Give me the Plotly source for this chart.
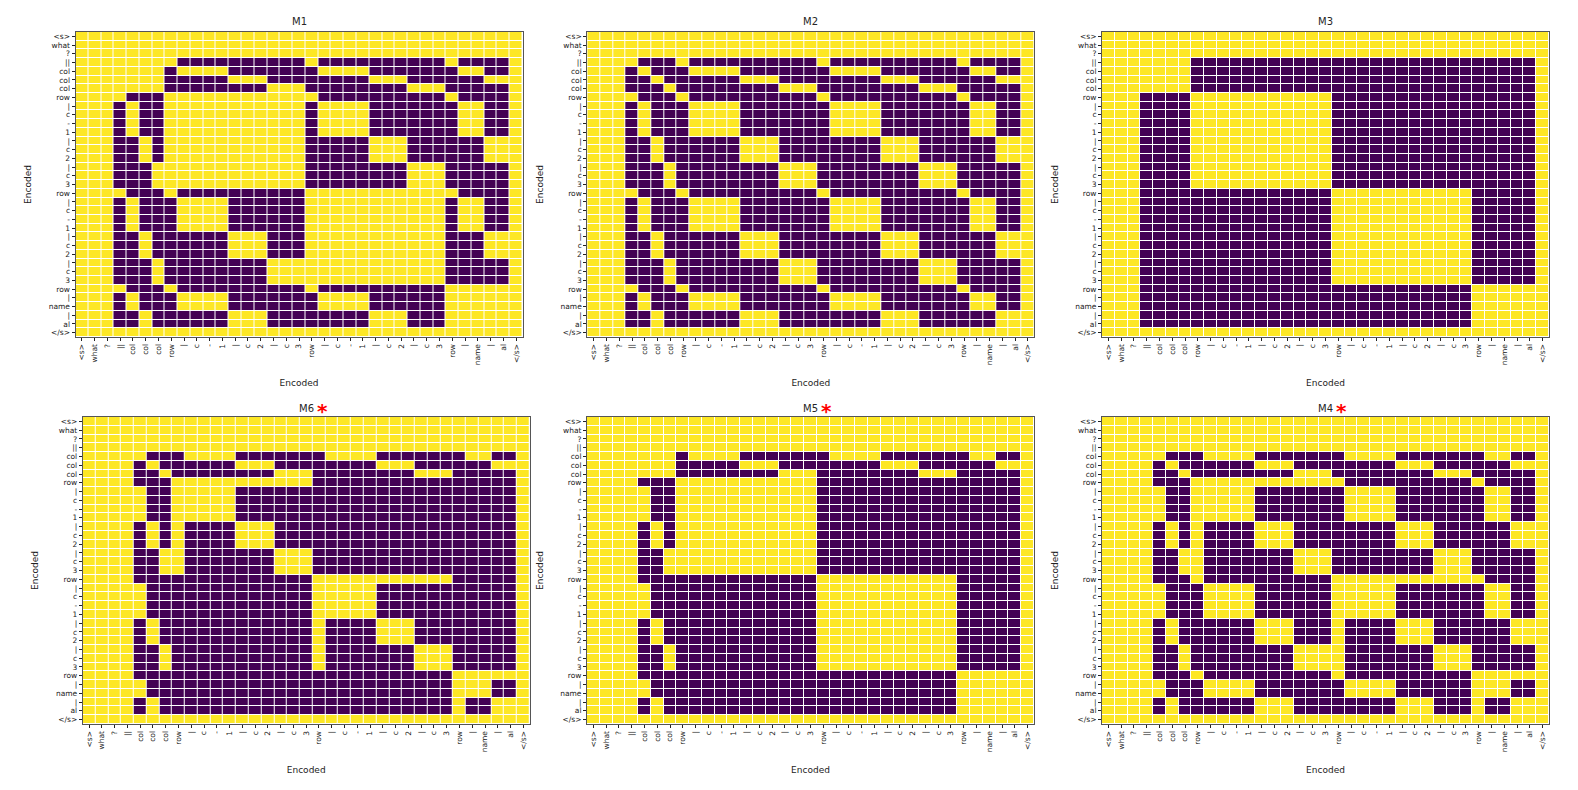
import plotly.graph_objects as go

# token sequence shared by both axes of every panel
tokens = ["<s>", "what", "?", "||", "col", "col", "col", "row",
          "|", "c", "-", "1", "|", "c", "2", "|", "c", "3", "row",
          "|", "c", "-", "1", "|", "c", "2", "|", "c", "3", "row",
          "|", "name", "|", "al", "</s>"]

# masks, one string per query row (1 = yellow / attend, 0 = purple / masked)
# groups: <s> what ? | || | col col col | row | cell | cell | cell | row | ... | </s>
M1 = [
    "111 1 111 1 1111 111 111 1 1111 111 111 1 11 11 1",
    "111 1 111 1 1111 111 111 1 1111 111 111 1 11 11 1",
    "111 1 111 1 1111 111 111 1 1111 111 111 1 11 11 1",
    "111 1 111 1 0000 000 000 1 0000 000 000 1 00 00 1",
    "111 1 111 0 1111 000 000 0 1111 000 000 0 11 00 1",
    "111 1 111 0 0000 111 000 0 0000 111 000 0 00 11 1",
    "111 1 111 0 0000 000 111 0 0000 000 111 0 00 00 1",
    "111 1 000 1 1111 111 111 1 0000 000 000 1 00 00 1",
    "111 0 100 1 1111 111 111 0 1111 000 000 0 11 00 1",
    "111 0 100 1 1111 111 111 0 1111 000 000 0 11 00 1",
    "111 0 100 1 1111 111 111 0 1111 000 000 0 11 00 1",
    "111 0 100 1 1111 111 111 0 1111 000 000 0 11 00 1",
    "111 0 010 1 1111 111 111 0 0000 111 000 0 00 11 1",
    "111 0 010 1 1111 111 111 0 0000 111 000 0 00 11 1",
    "111 0 010 1 1111 111 111 0 0000 111 000 0 00 11 1",
    "111 0 001 1 1111 111 111 0 0000 000 111 0 00 00 1",
    "111 0 001 1 1111 111 111 0 0000 000 111 0 00 00 1",
    "111 0 001 1 1111 111 111 0 0000 000 111 0 00 00 1",
    "111 1 000 1 0000 000 000 1 1111 111 111 1 00 00 1",
    "111 0 100 0 1111 000 000 1 1111 111 111 0 11 00 1",
    "111 0 100 0 1111 000 000 1 1111 111 111 0 11 00 1",
    "111 0 100 0 1111 000 000 1 1111 111 111 0 11 00 1",
    "111 0 100 0 1111 000 000 1 1111 111 111 0 11 00 1",
    "111 0 010 0 0000 111 000 1 1111 111 111 0 00 11 1",
    "111 0 010 0 0000 111 000 1 1111 111 111 0 00 11 1",
    "111 0 010 0 0000 111 000 1 1111 111 111 0 00 11 1",
    "111 0 001 0 0000 000 111 1 1111 111 111 0 00 00 1",
    "111 0 001 0 0000 000 111 1 1111 111 111 0 00 00 1",
    "111 0 001 0 0000 000 111 1 1111 111 111 0 00 00 1",
    "111 1 000 1 0000 000 000 1 0000 000 000 1 11 11 1",
    "111 0 100 0 1111 000 000 0 1111 000 000 1 11 11 1",
    "111 0 100 0 1111 000 000 0 1111 000 000 1 11 11 1",
    "111 0 010 0 0000 111 000 0 0000 111 000 1 11 11 1",
    "111 0 010 0 0000 111 000 0 0000 111 000 1 11 11 1",
    "111 1 111 1 1111 111 111 1 1111 111 111 1 11 11 1",
]

M2 = [
    "111 1 111 1 1111 111 111 1 1111 111 111 1 11 11 1",
    "111 1 111 1 1111 111 111 1 1111 111 111 1 11 11 1",
    "111 1 111 1 1111 111 111 1 1111 111 111 1 11 11 1",
    "111 1 000 1 0000 000 000 1 0000 000 000 1 00 00 1",
    "111 0 100 0 1111 000 000 0 1111 000 000 0 11 00 1",
    "111 0 010 0 0000 111 000 0 0000 111 000 0 00 11 1",
    "111 0 001 0 0000 000 111 0 0000 000 111 0 00 00 1",
    "111 1 000 1 0000 000 000 1 0000 000 000 1 00 00 1",
    "111 0 100 0 1111 000 000 0 1111 000 000 0 11 00 1",
    "111 0 100 0 1111 000 000 0 1111 000 000 0 11 00 1",
    "111 0 100 0 1111 000 000 0 1111 000 000 0 11 00 1",
    "111 0 100 0 1111 000 000 0 1111 000 000 0 11 00 1",
    "111 0 010 0 0000 111 000 0 0000 111 000 0 00 11 1",
    "111 0 010 0 0000 111 000 0 0000 111 000 0 00 11 1",
    "111 0 010 0 0000 111 000 0 0000 111 000 0 00 11 1",
    "111 0 001 0 0000 000 111 0 0000 000 111 0 00 00 1",
    "111 0 001 0 0000 000 111 0 0000 000 111 0 00 00 1",
    "111 0 001 0 0000 000 111 0 0000 000 111 0 00 00 1",
    "111 1 000 1 0000 000 000 1 0000 000 000 1 00 00 1",
    "111 0 100 0 1111 000 000 0 1111 000 000 0 11 00 1",
    "111 0 100 0 1111 000 000 0 1111 000 000 0 11 00 1",
    "111 0 100 0 1111 000 000 0 1111 000 000 0 11 00 1",
    "111 0 100 0 1111 000 000 0 1111 000 000 0 11 00 1",
    "111 0 010 0 0000 111 000 0 0000 111 000 0 00 11 1",
    "111 0 010 0 0000 111 000 0 0000 111 000 0 00 11 1",
    "111 0 010 0 0000 111 000 0 0000 111 000 0 00 11 1",
    "111 0 001 0 0000 000 111 0 0000 000 111 0 00 00 1",
    "111 0 001 0 0000 000 111 0 0000 000 111 0 00 00 1",
    "111 0 001 0 0000 000 111 0 0000 000 111 0 00 00 1",
    "111 1 000 1 0000 000 000 1 0000 000 000 1 00 00 1",
    "111 0 100 0 1111 000 000 0 1111 000 000 0 11 00 1",
    "111 0 100 0 1111 000 000 0 1111 000 000 0 11 00 1",
    "111 0 010 0 0000 111 000 0 0000 111 000 0 00 11 1",
    "111 0 010 0 0000 111 000 0 0000 111 000 0 00 11 1",
    "111 1 111 1 1111 111 111 1 1111 111 111 1 11 11 1",
]

M3 = [
    "111 1 111 1 1111 111 111 1 1111 111 111 1 11 11 1",
    "111 1 111 1 1111 111 111 1 1111 111 111 1 11 11 1",
    "111 1 111 1 1111 111 111 1 1111 111 111 1 11 11 1",
    "111 1 111 0 0000 000 000 0 0000 000 000 0 00 00 1",
    "111 1 111 0 0000 000 000 0 0000 000 000 0 00 00 1",
    "111 1 111 0 0000 000 000 0 0000 000 000 0 00 00 1",
    "111 1 111 0 0000 000 000 0 0000 000 000 0 00 00 1",
    "111 0 000 1 1111 111 111 0 0000 000 000 0 00 00 1",
    "111 0 000 1 1111 111 111 0 0000 000 000 0 00 00 1",
    "111 0 000 1 1111 111 111 0 0000 000 000 0 00 00 1",
    "111 0 000 1 1111 111 111 0 0000 000 000 0 00 00 1",
    "111 0 000 1 1111 111 111 0 0000 000 000 0 00 00 1",
    "111 0 000 1 1111 111 111 0 0000 000 000 0 00 00 1",
    "111 0 000 1 1111 111 111 0 0000 000 000 0 00 00 1",
    "111 0 000 1 1111 111 111 0 0000 000 000 0 00 00 1",
    "111 0 000 1 1111 111 111 0 0000 000 000 0 00 00 1",
    "111 0 000 1 1111 111 111 0 0000 000 000 0 00 00 1",
    "111 0 000 1 1111 111 111 0 0000 000 000 0 00 00 1",
    "111 0 000 0 0000 000 000 1 1111 111 111 0 00 00 1",
    "111 0 000 0 0000 000 000 1 1111 111 111 0 00 00 1",
    "111 0 000 0 0000 000 000 1 1111 111 111 0 00 00 1",
    "111 0 000 0 0000 000 000 1 1111 111 111 0 00 00 1",
    "111 0 000 0 0000 000 000 1 1111 111 111 0 00 00 1",
    "111 0 000 0 0000 000 000 1 1111 111 111 0 00 00 1",
    "111 0 000 0 0000 000 000 1 1111 111 111 0 00 00 1",
    "111 0 000 0 0000 000 000 1 1111 111 111 0 00 00 1",
    "111 0 000 0 0000 000 000 1 1111 111 111 0 00 00 1",
    "111 0 000 0 0000 000 000 1 1111 111 111 0 00 00 1",
    "111 0 000 0 0000 000 000 1 1111 111 111 0 00 00 1",
    "111 0 000 0 0000 000 000 0 0000 000 000 1 11 11 1",
    "111 0 000 0 0000 000 000 0 0000 000 000 1 11 11 1",
    "111 0 000 0 0000 000 000 0 0000 000 000 1 11 11 1",
    "111 0 000 0 0000 000 000 0 0000 000 000 1 11 11 1",
    "111 0 000 0 0000 000 000 0 0000 000 000 1 11 11 1",
    "111 1 111 1 1111 111 111 1 1111 111 111 1 11 11 1",
]

M6 = [
    "111 1 111 1 1111 111 111 1 1111 111 111 1 11 11 1",
    "111 1 111 1 1111 111 111 1 1111 111 111 1 11 11 1",
    "111 1 111 1 1111 111 111 1 1111 111 111 1 11 11 1",
    "111 1 111 1 1111 111 111 1 1111 111 111 1 11 11 1",
    "111 1 100 0 1111 000 000 0 1111 000 000 0 11 00 1",
    "111 1 010 0 0000 111 000 0 0000 111 000 0 00 11 1",
    "111 1 001 0 0000 000 111 0 0000 000 111 0 00 00 1",
    "111 1 000 1 1111 111 111 0 0000 000 000 0 00 00 1",
    "111 1 100 1 1111 000 000 0 0000 000 000 0 00 00 1",
    "111 1 100 1 1111 000 000 0 0000 000 000 0 00 00 1",
    "111 1 100 1 1111 000 000 0 0000 000 000 0 00 00 1",
    "111 1 100 1 1111 000 000 0 0000 000 000 0 00 00 1",
    "111 1 010 1 0000 111 000 0 0000 000 000 0 00 00 1",
    "111 1 010 1 0000 111 000 0 0000 000 000 0 00 00 1",
    "111 1 010 1 0000 111 000 0 0000 000 000 0 00 00 1",
    "111 1 001 1 0000 000 111 0 0000 000 000 0 00 00 1",
    "111 1 001 1 0000 000 111 0 0000 000 000 0 00 00 1",
    "111 1 001 1 0000 000 111 0 0000 000 000 0 00 00 1",
    "111 1 000 0 0000 000 000 1 1111 111 111 0 00 00 1",
    "111 1 100 0 0000 000 000 1 1111 000 000 0 00 00 1",
    "111 1 100 0 0000 000 000 1 1111 000 000 0 00 00 1",
    "111 1 100 0 0000 000 000 1 1111 000 000 0 00 00 1",
    "111 1 100 0 0000 000 000 1 1111 000 000 0 00 00 1",
    "111 1 010 0 0000 000 000 1 0000 111 000 0 00 00 1",
    "111 1 010 0 0000 000 000 1 0000 111 000 0 00 00 1",
    "111 1 010 0 0000 000 000 1 0000 111 000 0 00 00 1",
    "111 1 001 0 0000 000 000 1 0000 000 111 0 00 00 1",
    "111 1 001 0 0000 000 000 1 0000 000 111 0 00 00 1",
    "111 1 001 0 0000 000 000 1 0000 000 111 0 00 00 1",
    "111 1 000 0 0000 000 000 0 0000 000 000 1 11 11 1",
    "111 1 100 0 0000 000 000 0 0000 000 000 1 11 00 1",
    "111 1 100 0 0000 000 000 0 0000 000 000 1 11 00 1",
    "111 1 010 0 0000 000 000 0 0000 000 000 1 00 11 1",
    "111 1 010 0 0000 000 000 0 0000 000 000 1 00 11 1",
    "111 1 111 1 1111 111 111 1 1111 111 111 1 11 11 1",
]

M5 = [
    "111 1 111 1 1111 111 111 1 1111 111 111 1 11 11 1",
    "111 1 111 1 1111 111 111 1 1111 111 111 1 11 11 1",
    "111 1 111 1 1111 111 111 1 1111 111 111 1 11 11 1",
    "111 1 111 1 1111 111 111 1 1111 111 111 1 11 11 1",
    "111 1 111 0 1111 000 000 0 1111 000 000 0 11 00 1",
    "111 1 111 0 0000 111 000 0 0000 111 000 0 00 11 1",
    "111 1 111 0 0000 000 111 0 0000 000 111 0 00 00 1",
    "111 1 000 1 1111 111 111 0 0000 000 000 0 00 00 1",
    "111 1 100 1 1111 111 111 0 0000 000 000 0 00 00 1",
    "111 1 100 1 1111 111 111 0 0000 000 000 0 00 00 1",
    "111 1 100 1 1111 111 111 0 0000 000 000 0 00 00 1",
    "111 1 100 1 1111 111 111 0 0000 000 000 0 00 00 1",
    "111 1 010 1 1111 111 111 0 0000 000 000 0 00 00 1",
    "111 1 010 1 1111 111 111 0 0000 000 000 0 00 00 1",
    "111 1 010 1 1111 111 111 0 0000 000 000 0 00 00 1",
    "111 1 001 1 1111 111 111 0 0000 000 000 0 00 00 1",
    "111 1 001 1 1111 111 111 0 0000 000 000 0 00 00 1",
    "111 1 001 1 1111 111 111 0 0000 000 000 0 00 00 1",
    "111 1 000 0 0000 000 000 1 1111 111 111 0 00 00 1",
    "111 1 100 0 0000 000 000 1 1111 111 111 0 00 00 1",
    "111 1 100 0 0000 000 000 1 1111 111 111 0 00 00 1",
    "111 1 100 0 0000 000 000 1 1111 111 111 0 00 00 1",
    "111 1 100 0 0000 000 000 1 1111 111 111 0 00 00 1",
    "111 1 010 0 0000 000 000 1 1111 111 111 0 00 00 1",
    "111 1 010 0 0000 000 000 1 1111 111 111 0 00 00 1",
    "111 1 010 0 0000 000 000 1 1111 111 111 0 00 00 1",
    "111 1 001 0 0000 000 000 1 1111 111 111 0 00 00 1",
    "111 1 001 0 0000 000 000 1 1111 111 111 0 00 00 1",
    "111 1 001 0 0000 000 000 1 1111 111 111 0 00 00 1",
    "111 1 000 0 0000 000 000 0 0000 000 000 1 11 11 1",
    "111 1 100 0 0000 000 000 0 0000 000 000 1 11 11 1",
    "111 1 100 0 0000 000 000 0 0000 000 000 1 11 11 1",
    "111 1 010 0 0000 000 000 0 0000 000 000 1 11 11 1",
    "111 1 010 0 0000 000 000 0 0000 000 000 1 11 11 1",
    "111 1 111 1 1111 111 111 1 1111 111 111 1 11 11 1",
]

M4 = [
    "111 1 111 1 1111 111 111 1 1111 111 111 1 11 11 1",
    "111 1 111 1 1111 111 111 1 1111 111 111 1 11 11 1",
    "111 1 111 1 1111 111 111 1 1111 111 111 1 11 11 1",
    "111 1 111 1 1111 111 111 1 1111 111 111 1 11 11 1",
    "111 1 100 0 1111 000 000 0 1111 000 000 0 11 00 1",
    "111 1 010 0 0000 111 000 0 0000 111 000 0 00 11 1",
    "111 1 001 0 0000 000 111 0 0000 000 111 0 00 00 1",
    "111 1 000 1 1111 111 111 1 0000 000 000 1 00 00 1",
    "111 1 100 1 1111 000 000 0 1111 000 000 0 11 00 1",
    "111 1 100 1 1111 000 000 0 1111 000 000 0 11 00 1",
    "111 1 100 1 1111 000 000 0 1111 000 000 0 11 00 1",
    "111 1 100 1 1111 000 000 0 1111 000 000 0 11 00 1",
    "111 1 010 1 0000 111 000 0 0000 111 000 0 00 11 1",
    "111 1 010 1 0000 111 000 0 0000 111 000 0 00 11 1",
    "111 1 010 1 0000 111 000 0 0000 111 000 0 00 11 1",
    "111 1 001 1 0000 000 111 0 0000 000 111 0 00 00 1",
    "111 1 001 1 0000 000 111 0 0000 000 111 0 00 00 1",
    "111 1 001 1 0000 000 111 0 0000 000 111 0 00 00 1",
    "111 1 000 1 0000 000 000 1 1111 111 111 1 00 00 1",
    "111 1 100 0 1111 000 000 1 1111 000 000 0 11 00 1",
    "111 1 100 0 1111 000 000 1 1111 000 000 0 11 00 1",
    "111 1 100 0 1111 000 000 1 1111 000 000 0 11 00 1",
    "111 1 100 0 1111 000 000 1 1111 000 000 0 11 00 1",
    "111 1 010 0 0000 111 000 1 0000 111 000 0 00 11 1",
    "111 1 010 0 0000 111 000 1 0000 111 000 0 00 11 1",
    "111 1 010 0 0000 111 000 1 0000 111 000 0 00 11 1",
    "111 1 001 0 0000 000 111 1 0000 000 111 0 00 00 1",
    "111 1 001 0 0000 000 111 1 0000 000 111 0 00 00 1",
    "111 1 001 0 0000 000 111 1 0000 000 111 0 00 00 1",
    "111 1 000 1 0000 000 000 1 0000 000 000 1 11 11 1",
    "111 1 100 0 1111 000 000 0 1111 000 000 1 11 00 1",
    "111 1 100 0 1111 000 000 0 1111 000 000 1 11 00 1",
    "111 1 010 0 0000 111 000 0 0000 111 000 1 00 11 1",
    "111 1 010 0 0000 111 000 0 0000 111 000 1 00 11 1",
    "111 1 111 1 1111 111 111 1 1111 111 111 1 11 11 1",
]

titles = ["M1", "M2", "M3", "M6", "M5", "M4"]
masks = [M1, M2, M3, M6, M5, M4]
starred = [False, False, False, True, True, True]

W, H = 1578, 790
PW = 447                       # panel width in px
lefts = [75.5, 587.3, 1102, 82.7, 587, 1102]
tops = [32, 32, 32, 417, 417, 417]
heights = [305, 305, 305, 307, 307, 307]

PURPLE = "#440154"
YELLOW = "#fde725"
FONT = "DejaVu Sans"

ticktext = [t.replace("<", "&lt;").replace(">", "&gt;") for t in tokens]
idx = list(range(len(tokens)))

fig = go.Figure()
annotations = []

for i in range(6):
    ax = "" if i == 0 else str(i + 1)
    z = [[int(ch) for ch in row.replace(" ", "")] for row in masks[i]]
    fig.add_trace(go.Heatmap(
        z=z, x=idx, y=idx,
        xaxis="x" + ax, yaxis="y" + ax,
        colorscale=[[0, PURPLE], [1, YELLOW]], zmin=0, zmax=1,
        showscale=False, xgap=1, ygap=1, hoverinfo="skip",
    ))
    common = dict(
        tickmode="array", tickvals=idx, ticktext=ticktext,
        ticks="outside", ticklen=3, tickwidth=1, tickcolor="#222",
        tickfont=dict(family=FONT, size=7.5, color="#222"),
        showgrid=False, zeroline=False,
        showline=True, linecolor="#555", linewidth=1, mirror=True,
        title=dict(text="Encoded", font=dict(family=FONT, size=9, color="#222")),
    )
    x0 = lefts[i] / W
    x1 = (lefts[i] + PW) / W
    y1 = 1 - tops[i] / H
    y0 = 1 - (tops[i] + heights[i]) / H
    fig.update_layout(**{
        "xaxis" + ax: dict(common, domain=[x0, x1], anchor="y" + ax,
                           range=[-0.5, 34.5], tickangle=-90),
        "yaxis" + ax: dict(common, domain=[y0, y1], anchor="x" + ax,
                           range=[34.5, -0.5]),
    })
    cx = (lefts[i] + PW / 2) / W
    ty = 1 - (tops[i] - (11 if i < 3 else 9)) / H
    annotations.append(dict(text=titles[i], x=cx, y=ty, xref="paper", yref="paper",
                            showarrow=False, xanchor="center", yanchor="middle",
                            font=dict(family=FONT, size=10, color="#262626")))
    if starred[i]:
        annotations.append(dict(text="<b>*</b>", x=cx + 16 / W, y=1 - (tops[i] - 6) / H,
                                xref="paper", yref="paper", showarrow=False,
                                xanchor="center", yanchor="middle",
                                font=dict(family=FONT, size=20, color="red")))

fig.update_layout(
    width=W, height=H,
    margin=dict(l=0, r=0, t=0, b=0),
    paper_bgcolor="white", plot_bgcolor="white",
    annotations=annotations,
    showlegend=False,
)

# drop the browser's default body margin so the figure sits at the page origin
fig.write_html("out.html", config={"displayModeBar": False},
               post_script="document.body.style.margin='0';")
